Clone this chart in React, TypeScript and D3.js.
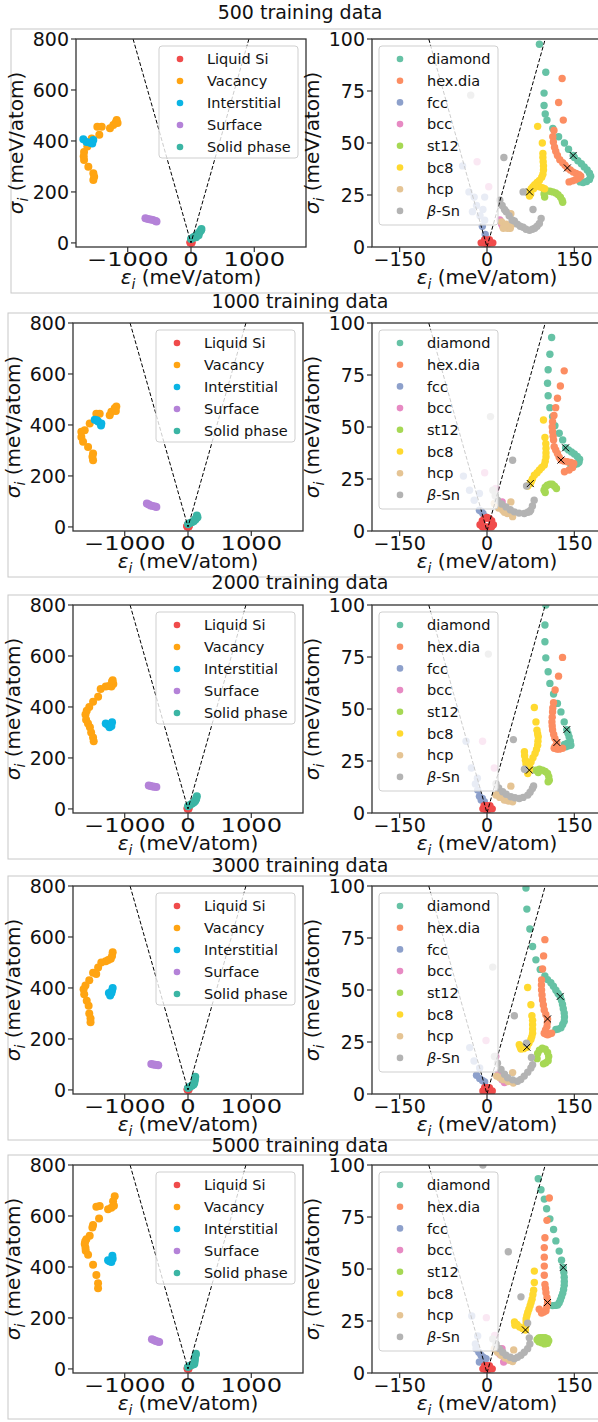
import React from 'react';
import * as d3 from 'd3';

type Pt = [number, number];

const trainingSizes = [500, 1000, 2000, 3000, 5000];

const defectLabels = ['Liquid Si', 'Vacancy', 'Interstitial', 'Surface', 'Solid phase'];
const defectColors = ['#f04b4b', '#ffa412', '#0ab4e4', '#b482d8', '#3bb5a4'];
const phaseLabels = ['diamond', 'hex.dia', 'fcc', 'bcc', 'st12', 'bc8', 'hcp', 'β-Sn'];
const phaseColors = ['#66c2a5', '#fc8d62', '#8da0cb', '#e78ac3', '#a6d854', '#ffd92f', '#e5c494', '#b3b3b3'];

const defectXTicks = [-1000, 0, 1000];
const defectYTicks = [0, 200, 400, 600, 800];
const phaseXTicks = [-150, 0, 150];
const phaseYTicks = [0, 25, 50, 75, 100];

// dashed guide lines
const defectGuide: Pt[] = [[-915, 800], [0, 0], [915, 800]];
const phaseGuide: Pt[] = [[-100, 100], [0, 0], [100, 100]];

// ---- left panels (one list per training-set size) ----
const liquidSi: Pt[][] = [
  [[-10, 2], [-6, 2], [-2, 2], [2, 2], [6, 2], [10, 2], [-4, 3.5], [4, 3.5], [0, 1]],
  [[-12, 3], [-8, 2], [-4, 2], [0, 2], [4, 2], [8, 2], [11, 3], [-8, 5], [-4, 6], [0, 6.5], [4, 6], [8, 5]],
  [[-7, 2], [-3, 2], [1, 2], [5, 2], [9, 2], [-5, 3.5], [0, 3.5], [5, 3.5], [0, 1]],
  [[-7, 1.5], [-3, 1.5], [1, 1.5], [5, 1.5], [9, 1.5], [-4, 3], [0, 3], [4, 3]],
  [[-7, 2], [-3, 2], [1, 2], [5, 2], [9, 2], [-4, 3.5], [0, 3.5], [4, 3.5], [0, 1]],
];

const vacancy: Pt[][] = [
  [[-1174, 482], [-1160, 470], [-1190, 472], [-1227, 463], [-1280, 450], [-1411, 456], [-1480, 456], [-1449, 424],
    [-1569, 410], [-1638, 378], [-1690, 357], [-1695, 340], [-1690, 325], [-1622, 299], [-1543, 273], [-1543, 247], [-1530, 260]],
  [[-1132, 472], [-1158, 466], [-1211, 452], [-1237, 438], [-1395, 444], [-1448, 444], [-1553, 406], [-1632, 379],
    [-1685, 373], [-1685, 353], [-1658, 334], [-1579, 314], [-1500, 288], [-1500, 262], [-1510, 275], [-1140, 455]],
  [[-1200, 500], [-1180, 490], [-1210, 480], [-1250, 482], [-1300, 480], [-1380, 470], [-1420, 440], [-1500, 420],
    [-1560, 400], [-1600, 385], [-1620, 370], [-1610, 350], [-1580, 335], [-1550, 320], [-1530, 300], [-1500, 280],
    [-1490, 265], [-1190, 505]],
  [[-1190, 540], [-1200, 525], [-1220, 515], [-1260, 510], [-1300, 505], [-1370, 500], [-1420, 480], [-1500, 460],
    [-1560, 430], [-1620, 410], [-1650, 395], [-1640, 375], [-1600, 350], [-1570, 330], [-1560, 300], [-1540, 280],
    [-1540, 265], [-1450, 455]],
  [[-1158, 677], [-1184, 658], [-1211, 632], [-1263, 626], [-1170, 640], [-1395, 639], [-1448, 636], [-1405, 590],
    [-1500, 565], [-1511, 555], [-1553, 522], [-1606, 509], [-1632, 490], [-1616, 464], [-1579, 448], [-1500, 409],
    [-1448, 368], [-1421, 336], [-1421, 316], [-1620, 475], [-1625, 500]],
];

const interstitial: Pt[][] = [
  [[-1701, 407], [-1650, 396], [-1596, 393], [-1543, 404], [-1560, 390]],
  [[-1474, 420], [-1421, 414], [-1369, 406], [-1375, 398], [-1440, 418]],
  [[-1300, 335], [-1270, 330], [-1240, 320], [-1220, 330], [-1200, 340], [-1210, 325]],
  [[-1250, 380], [-1230, 370], [-1200, 390], [-1190, 400], [-1210, 380]],
  [[-1263, 426], [-1211, 419], [-1195, 444], [-1190, 432], [-1240, 422]],
];

const surface: Pt[][] = [
  [[-720, 97], [-680, 94], [-640, 92], [-600, 90], [-560, 86], [-545, 84]],
  [[-650, 92], [-620, 88], [-590, 84], [-560, 82], [-520, 80], [-500, 78]],
  [[-620, 92], [-590, 90], [-560, 88], [-530, 87], [-500, 86]],
  [[-580, 102], [-550, 100], [-520, 99], [-490, 98], [-470, 97]],
  [[-570, 116], [-540, 113], [-510, 110], [-480, 108], [-455, 106]],
];

const solidPhase: Pt[][] = [
  [[0, 15], [20, 18], [40, 22], [60, 25], [80, 28], [100, 32], [120, 38], [140, 44], [160, 50], [165, 55], [120, 30], [80, 22]],
  [[0, 10], [30, 15], [60, 18], [90, 22], [110, 28], [130, 35], [140, 45], [150, 38], [120, 30]],
  [[0, 10], [30, 15], [60, 20], [90, 25], [110, 30], [130, 40], [140, 50], [120, 35]],
  [[0, 8], [30, 12], [60, 16], [80, 20], [100, 28], [110, 40], [115, 52], [90, 22]],
  [[0, 8], [30, 12], [60, 15], [90, 18], [100, 20], [110, 40], [120, 55], [125, 60], [105, 30]],
];

// ---- right panels ----
const diamond: Pt[][] = [
  [[90, 97.5], [101, 84], [98, 74], [98, 68], [100, 64], [103, 61], [113, 57], [123, 53], [133, 50], [140, 47], [148, 44],
    [150, 43], [156, 41.5], [162, 40], [167, 38.5], [172, 37], [176, 35.5], [178, 34], [176, 32.5], [171, 31.5], [165, 31], [160, 31.3]],
  [[111, 93], [108, 85], [105, 77.5], [104, 71], [105, 65], [108, 59.3], [112.6, 55], [116.6, 50.6], [124, 47], [130, 43.8],
    [135, 40], [140, 39], [145, 38], [150, 37], [155, 35.8], [159, 34.5], [158, 33], [155, 32.3], [150, 31.8], [144, 31.7]],
  [[101, 100], [99.5, 90.4], [99.5, 82.3], [101, 74.6], [105, 67.9], [108, 62.3], [114.3, 57.2], [121, 52.7], [127, 48.6],
    [132.6, 43.8], [137, 40.1], [139, 38.3], [141, 36.6], [143, 34.5], [144, 32.6], [140, 32.3], [135.4, 31.8], [138, 33.5], [133, 33]],
  [[66.9, 99], [68.5, 88.9], [73.6, 79.3], [78.3, 70.9], [84, 64.5], [91.4, 59.9], [99.4, 56.7], [104, 55], [109.7, 53.5],
    [114, 51.8], [118.3, 49.9], [122, 48.3], [125.7, 46.9], [128, 45], [129.7, 43], [131, 41], [132.6, 38.9], [133, 37],
    [132.6, 35], [130, 33.4], [127, 31.8], [122, 31.2], [118.3, 31]],
  [[88, 93.4], [92.7, 88.1], [98.4, 83.6], [102.4, 79], [108, 74.1], [114.3, 69], [118.3, 63.5], [124, 58.6], [128, 54.2],
    [130.9, 50.7], [132, 48.3], [132.6, 46], [132.8, 44], [132.6, 42.2], [131.5, 40.2], [130, 38.3], [128, 36.7], [126, 35.1],
    [124, 33.8], [121.3, 32.7], [117, 32.5], [112.6, 32.4]],
];

const hexDia: Pt[][] = [
  [[129, 81], [123, 69.5], [131, 61], [115, 56], [113, 53], [114, 50.5], [116, 48], [118, 46], [121, 44], [125, 42], [130, 40.5],
    [134, 39.3], [138, 38], [143, 37], [148, 36], [153, 35.4], [158, 34.8], [161, 34], [157, 33], [152, 32.3], [147, 31.8], [141, 31.3]],
  [[132.6, 77], [126, 69.7], [121, 63.8], [118, 59.3], [115, 55.5], [112.6, 52.5], [112, 50], [112.6, 47.7], [113.5, 45.5],
    [114.3, 43.7], [115.4, 40.5], [118, 39], [121, 37.3], [124, 35.5], [127, 34.1], [132, 33.6], [138, 33.3], [144, 33],
    [149, 32.5], [147, 30.5], [141, 29.3], [133, 28.5]],
  [[129.7, 74.8], [122.9, 65.8], [117, 59.1], [114.3, 53], [113, 50.5], [112.6, 48.6], [112, 46], [111.5, 43.8], [112, 41.8],
    [112.6, 39.9], [114.5, 37.8], [116.6, 35.9], [120, 33.9], [117, 32], [115.4, 31.1], [120, 30.8], [124, 30.7], [129.7, 31.1]],
  [[99.4, 74.2], [97.2, 66.4], [95.4, 60.1], [93.7, 54.8], [93.5, 52.4], [93.7, 50], [94.5, 47.6], [95.4, 45.2], [96.8, 42.8],
    [98.3, 40.4], [101, 38.2], [104, 36.1], [103.5, 34.2], [103, 32.4], [100.5, 30.8], [98.3, 29.2], [101, 28.8], [104, 28.5],
    [107, 28.8], [110.9, 29.2]],
  [[107, 84.1], [103, 73.4], [99.5, 65], [98.4, 60.3], [98.4, 55.7], [98.4, 51.4], [98.4, 47], [99.5, 42.6], [100.5, 40.6],
    [101.3, 38.6], [103, 36.2], [104, 33.9], [102.5, 31.8], [101.3, 29.9], [97.5, 29.3], [93.7, 28.8], [89.7, 30.7]],
];

const fcc: Pt[][] = [
  [[-42, 39], [-31, 26.5], [-18, 20], [-7, 18], [-12, 15], [-4, 24], [-8, 10], [-3, 6], [-22, 24], [-25, 17], [-4, 12.9]],
  [[-40.5, 26.4], [-30, 19.6], [-13, 18], [-22, 14.8], [-13, 10], [-7, 8.4], [-10, 9.5], [-4, 7]],
  [[-36, 34.5], [-26.8, 21.6], [-16.5, 16.7], [-13, 8], [-10, 6.2], [-4.6, 5.4], [-16, 11], [-20, 14], [-8, 7]],
  [[-29.7, 22.3], [-22.3, 15.9], [-12.6, 12.5], [-12.6, 7.5], [-4, 5.8], [-18, 9], [-8, 6.5]],
  [[-26.2, 27.4], [-16, 17.8], [-18.8, 11.7], [-14, 10], [-10.3, 8.5], [-6, 7.5], [-1.7, 6.9], [-13.1, 5.3], [-20, 14]],
];

const bcc: Pt[][] = [
  [[22, 13], [25, 11], [27, 10], [24, 12], [-17, 41], [3, 29]],
  [[26, 14], [30, 11.5], [15, 20.4], [-4, 28], [22, 12]],
  [[25.2, 8.6], [30, 7], [33.7, 6.2], [-7.6, 34.5], [12.5, 21.6], [20, 10]],
  [[25.7, 6.9], [20, 10.3], [-1.7, 25.7], [15, 18], [30, 5.5]],
  [[25.7, 11.7], [28.6, 5.3], [-1.1, 26.6], [13.2, 18], [22, 9]],
];

const st12: Pt[][] = [
  [[99, 27], [103, 27], [108, 26.8], [113, 26.5], [118, 26], [122, 25.2], [126, 24], [129, 22.5], [130, 21.5], [99, 24], [98, 25.5]],
  [[98, 19.6], [100, 21], [103.6, 22], [108, 22.5], [112, 22.5], [116, 21.5], [119.3, 20.4], [100, 18.5]],
  [[84, 20.6], [90, 21], [95.4, 20.6], [100, 20], [104, 19], [106, 17.5], [107, 15.8], [105, 15], [88, 19.5]],
  [[86, 17], [87, 19.5], [90, 21], [95, 22], [100, 21.5], [104, 20], [106, 18], [105, 16], [101, 15], [97, 14.5]],
  [[86, 16], [89, 16.8], [92, 17], [96, 17], [100, 17], [104, 16.5], [106, 15.5], [104, 14.3], [99, 14], [94, 14.5], [89, 15]],
];

const bc8: Pt[][] = [
  [[87, 58], [95, 50], [96, 45], [96, 43], [96.5, 41], [97, 39], [97, 37], [96, 35], [94, 33.5], [90, 32], [86, 31], [82, 30],
    [79, 29], [76, 28], [74, 27], [73, 26], [73, 24.5], [75, 25.5], [80, 28], [85, 29.5], [90, 29], [95, 28.5], [99, 28]],
  [[97, 53.4], [99.5, 45], [101, 42], [101.3, 39.7], [101.3, 37.5], [101.3, 35.6], [100, 33.5], [98.4, 31.7], [94, 30.5],
    [90, 29.3], [86, 28], [81.3, 26.8], [78, 25], [76, 23.8], [74.4, 22.8], [70, 21.6]],
  [[81.3, 50.7], [84.1, 43.8], [85.8, 39.8], [87, 38], [88, 36.6], [87.5, 34.5], [87, 32.6], [85, 30.5], [82.5, 28.6],
    [79, 26.6], [75.7, 24.6], [73, 22.5], [72.8, 20.6], [70, 19], [64.3, 29.5], [64.6, 27.5], [66, 25.4], [67, 23.5], [68.5, 21.5]],
  [[69.8, 51.2], [75.4, 42.9], [77.1, 37.6], [78.3, 35.4], [78.3, 33.3], [78.3, 31.2], [78.3, 29.2], [77, 27.6], [75.4, 26.2],
    [72, 24.4], [68.5, 22.5], [63, 21.8], [58.3, 21.6], [55.4, 23.7], [57, 22.6]],
  [[81.3, 49], [81.3, 43.5], [80.1, 39.8], [78.8, 37.6], [77.4, 35.5], [75.7, 33.9], [74, 32.3], [72, 30.7], [70, 29.1],
    [68.5, 27.5], [67.2, 26], [67.2, 24.5], [67.2, 22.9], [66, 20.7], [61, 21.4], [56, 22.1], [51.5, 23.3], [47.2, 24.5], [48, 23]],
];

const hcp: Pt[][] = [
  [[41, 16], [25, 12], [30, 10], [35, 9], [40, 9], [44, 11], [28, 9], [33, 11]],
  [[41, 14], [35, 8.4], [27, 10], [12.5, 13.2], [44, 6.9], [20, 11], [30, 9]],
  [[41, 12.9], [15.4, 8.6], [22, 7.5], [29.7, 6.2], [37, 5.8], [44, 5.4], [20, 9.5]],
  [[44, 10.3], [16.6, 8.6], [22, 7.8], [28, 6.9], [36, 6], [45.2, 5.3]],
  [[45.8, 11.1], [12.6, 11.7], [18, 10], [24, 8.5], [31, 7.2], [38.3, 6.1], [44, 5.5]],
];

const betaSn: Pt[][] = [
  [[-28, 73], [29, 43], [62, 26.5], [79, 18], [22, 22.5], [26, 20], [30, 18], [33, 17], [38, 15], [43, 13], [47, 12.5], [52, 11],
    [57, 10], [62, 9.5], [67, 8.5], [73, 8], [78, 8.5], [82, 9], [86, 10], [90, 11.3], [93, 13.7]],
  [[6, 55], [44, 34], [68, 21.6], [10, 19.6], [14, 17], [18, 14.8], [25, 13], [32.6, 11.6], [40, 10.2], [47, 9.2], [55, 8.6],
    [64, 8.4], [70, 9], [75, 10], [78, 12], [81, 14.8], [73, 9.3]],
  [[2.3, 76.4], [45.3, 35.3], [64.3, 21], [15.4, 14.1], [20, 12], [26.8, 10.2], [33, 9], [41, 7.8], [48, 7.3], [55.4, 7],
    [62, 7.5], [70, 8.6], [74, 10], [78, 11.8], [80, 13]],
  [[9.8, 61], [47, 37.6], [67.7, 24.4], [76.3, 17.6], [12.7, 18], [18, 14.8], [24, 11.8], [30, 9.5], [35.4, 7.8], [44, 6.8],
    [52.5, 6.1], [58, 7], [64, 8.6], [70, 10.5], [75.4, 12.5], [78.3, 14.1]],
  [[36.6, 58.3], [58.3, 36.6], [69.8, 24], [72.6, 16.9], [-7, 100], [9.8, 16.4], [15.5, 14], [21.2, 11.7], [27, 10], [32.6, 8.5],
    [40, 7.6], [47, 6.9], [52.5, 7.6], [58.3, 8.5], [64, 10], [69.8, 11.7], [73.6, 14]],
];

// reference structures marked with a black x
const markedPoints: Pt[][] = [
  [[148, 44], [138, 38], [73, 26.5]],
  [[135, 40], [127, 34.1], [74.4, 22.8]],
  [[137, 40.1], [120, 33.9], [72.8, 20.6]],
  [[125.7, 46.9], [104, 36.1], [68.5, 22.5]],
  [[130.9, 50.7], [104, 33.9], [66, 20.7]],
];

const defectSeries = [liquidSi, vacancy, interstitial, surface, solidPhase];
const phaseSeries = [diamond, hexDia, fcc, bcc, st12, bc8, hcp, betaSn];

// layout
const W = 598;
const H = 1422;
const rowTops = [39, 323, 605, 886, 1165];
const titleLift = [20, 15, 16, 14, 13];
const leftShift = [0, -3, -3, -3, -3];
const plotW = 230;
const plotH = 208;
const FONT = 'DejaVu Sans, sans-serif';

const fmt = (d: number) => (d < 0 ? '\u2212' + Math.abs(d) : String(d));

function AxisLabel({ x, y, sym, rotate }: { x: number; y: number; sym: string; rotate?: boolean }) {
  return (
    <text x={x} y={y} fontSize={20} textAnchor="middle" fill="#111"
      transform={rotate ? `rotate(-90 ${x} ${y})` : undefined}>
      <tspan fontStyle="italic">{sym}</tspan>
      <tspan fontStyle="italic" fontSize={14} dy={5}>i</tspan>
      <tspan dy={-5}> (meV/atom)</tspan>
    </text>
  );
}

function Plot({ id, x0, top, xDomain, yDomain, xTicks, yTicks, xTickStretch, series, colors, labels, guide, marks, legend, r }: any) {
  const x = d3.scaleLinear().domain(xDomain).range([x0, x0 + plotW]);
  const y = d3.scaleLinear().domain(yDomain).range([top + plotH, top]);
  const line = d3.line<Pt>().x(d => x(d[0])).y(d => y(d[1]));
  const bottom = top + plotH;
  return (
    <g>
      <clipPath id={id}>
        <rect x={x0} y={top} width={plotW} height={plotH} />
      </clipPath>
      <g clipPath={`url(#${id})`}>
        {series.map((pts: Pt[], si: number) => (
          <g key={si} fill={colors[si]}>
            {pts.map((p, pi) => (
              <circle key={pi} cx={x(p[0])} cy={y(p[1])} r={r} />
            ))}
          </g>
        ))}
        <path d={line(guide) || ''} fill="none" stroke="#000" strokeWidth={1} strokeDasharray="4 2" />
        {marks.map((p: Pt, i: number) => {
          const cx = x(p[0]);
          const cy = y(p[1]);
          return (
            <path key={i} d={`M${cx - 3.5},${cy - 3.5}L${cx + 3.5},${cy + 3.5}M${cx - 3.5},${cy + 3.5}L${cx + 3.5},${cy - 3.5}`}
              stroke="#000" strokeWidth={1} />
          );
        })}
      </g>
      {/* legend */}
      <rect x={x0 + legend.dx} y={top + 7} width={legend.w} height={legend.h} rx={3}
        fill="#fff" fillOpacity={0.8} stroke="#cfcfcf" />
      {labels.map((lab: string, i: number) => {
        const ly = top + 20 + i * legend.step;
        return (
          <g key={lab}>
            <circle cx={x0 + legend.mx} cy={ly} r={3.3} fill={colors[i]} />
            <text x={x0 + legend.tx} y={ly} dy="0.36em" fontSize={14.5} fill="#111">
              {lab === 'β-Sn' ? (<><tspan fontStyle="italic">β</tspan>-Sn</>) : lab}
            </text>
          </g>
        );
      })}
      {/* spines */}
      <rect x={x0} y={top} width={plotW} height={plotH} fill="none" stroke="#333" strokeWidth={1.3} />
      {xTicks.map((t: number) => (
        <g key={'x' + t}>
          <line x1={x(t)} x2={x(t)} y1={bottom} y2={bottom + 5} stroke="#333" strokeWidth={1.2} />
          <text transform={`translate(${x(t)},${bottom + 19}) scale(${xTickStretch},1)`} fontSize={19}
            textAnchor="middle" fill="#111">{fmt(t)}</text>
        </g>
      ))}
      {yTicks.map((t: number) => (
        <g key={'y' + t}>
          <line x1={x0 - 5} x2={x0} y1={y(t)} y2={y(t)} stroke="#333" strokeWidth={1.2} />
          <text x={x0 - 7} y={y(t)} dy="0.36em" fontSize={19} textAnchor="end" fill="#111">{fmt(t)}</text>
        </g>
      ))}
      <AxisLabel x={x0 + plotW / 2} y={bottom + 37} sym="ε" />
      <AxisLabel x={x0 - 53} y={top + plotH / 2} sym="σ" rotate />
    </g>
  );
}

export default function App() {
  return (
    <svg width={W} height={H} style={{ position: 'absolute', left: 0, top: 0, background: '#fff' }}
      fontFamily={FONT}>
      <rect width={W} height={H} fill="#fff" />
      {trainingSizes.map((n, i) => {
        const top = rowTops[i];
        const lx = 76 + leftShift[i];
        return (
          <g key={n}>
            <rect x={lx - 65} y={top - 10} width={W + 20} height={264} fill="none" stroke="#c8c8c8" strokeWidth={1} />
            <text x={300} y={top - titleLift[i]} fontSize={19} textAnchor="middle" fill="#111">
              {n} training data
            </text>
            <Plot id={`l${i}`} x0={lx} top={top} xDomain={[-1817, 1817]} yDomain={[-16, 800]}
              xTicks={defectXTicks} yTicks={defectYTicks} xTickStretch={1.27}
              series={defectSeries.map(s => s[i])} colors={defectColors} labels={defectLabels}
              guide={defectGuide} marks={[]} r={4}
              legend={{ dx: 83, w: 139, h: 112, mx: 104, tx: 131, step: 22 }} />
            <Plot id={`r${i}`} x0={372} top={top} xDomain={[-197.5, 197.5]} yDomain={[0, 100]}
              xTicks={phaseXTicks} yTicks={phaseYTicks} xTickStretch={1}
              series={[...phaseSeries.map(s => s[i]), liquidSi[i]]}
              colors={[...phaseColors, defectColors[0]]} labels={phaseLabels}
              guide={phaseGuide} marks={markedPoints[i]} r={3.7}
              legend={{ dx: 7, w: 119, h: 179, mx: 28, tx: 55, step: 21.7 }} />
          </g>
        );
      })}
    </svg>
  );
}
